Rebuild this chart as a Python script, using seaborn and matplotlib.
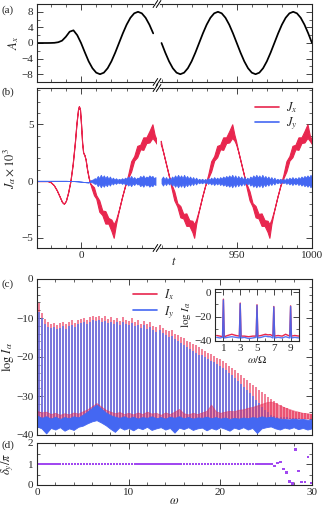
import numpy as np
import matplotlib
matplotlib.use("Agg")
import matplotlib.pyplot as plt
import seaborn as sns
from matplotlib.ticker import FixedLocator, MultipleLocator
from matplotlib.lines import Line2D

# ── Data ─────────────────────────────────────────────────────────────────────
# (a) vector potential A_x, sampled every 2.5 time units
T_A_LEFT = np.arange(-30.0, 50.0, 2.5)
A_LEFT = [0.0, 0.0, 0.0, 0.0, 0.01, 0.05, 0.2, 0.6, 1.6, 2.9, 3.25, 2.0, 0.0,
          -2.4, -4.7, -6.47, -7.61, -8.0, -7.61, -6.47, -4.7, -2.47, 0.0,
          2.47, 4.7, 6.47, 7.61, 8.0, 7.61, 6.47, 4.7, 2.47]
T_A_RIGHT = np.arange(900.0, 1000.1, 2.5)
A_RIGHT = [0.0, -2.47, -4.7, -6.47, -7.61, -8.0, -7.61, -6.47, -4.7, -2.47,
           0.0, 2.47, 4.7, 6.47, 7.61, 8.0, 7.61, 6.47, 4.7, 2.47,
           0.0, -2.47, -4.7, -6.47, -7.61, -8.0, -7.61, -6.47, -4.7, -2.47,
           0.0, 2.47, 4.7, 6.47, 7.61, 8.0, 7.61, 6.47, 4.7, 2.47, 0.0]

# (b) current J_x: centre of the trace and half width of its jitter
JX_T_LEFT = [-29, -22, -20, -18, -16, -14, -12.5, -11.3, -10, -8.5, -7, -5.5,
             -4, -3, -2, -1.4, -0.7, 0, 0.7, 1.4, 2.2, 3, 4, 5, 6, 7, 8.5, 10,
             12, 14, 16, 18, 20, 21.5, 23, 25, 27, 29, 31, 33, 35, 37, 39, 41,
             43, 45, 47, 48.5, 50]
JX_LEFT = [0, 0, -0.1, -0.35, -0.8, -1.4, -1.85, -2.0, -1.75, -1.0, 0.0, 1.5,
           3.5, 5.1, 6.3, 6.6, 6.3, 5.0, 3.4, 2.5, 2.3, 1.9, 1.0, 0.3, -0.2,
           -0.5, -0.9, -1.4, -2.2, -2.8, -3.2, -3.5, -3.9, -4.4, -3.6, -2.5,
           -1.4, -0.4, 0.4, 1.3, 2.0, 2.6, 3.0, 3.3, 3.6, 3.9, 4.4, 3.8, 3.4]
JX_NOISE_LEFT = [0, 0, 0, 0, 0, 0, 0, 0, 0, 0, 0, 0, 0, 0, 0, 0, 0, 0, 0, 0, 0,
                 0, 0, 0, 0, 0.15, 0.35, 0.15, 0.5, 0.2, 0.55, 0.25, 0.5, 0.6,
                 0.2, 0, 0, 0, 0.15, 0.45, 0.2, 0.5, 0.2, 0.55, 0.25, 0.5,
                 0.6, 0.25, 0.15]
JX_T_RIGHT = [899.5, 901, 903, 905, 906.5, 908.5, 910.5, 912.5, 914.5, 916.5,
              918.5, 920.5, 921.7, 923, 925, 927, 929, 931, 933, 935, 937,
              939, 941, 943, 945, 947, 948.5,
              949.5, 951, 953, 955, 956.5, 958.5, 960.5, 962.5, 964.5, 966.5,
              968.5, 970.5, 971.7, 973, 975, 977, 979, 981, 983, 985, 987,
              989, 991, 993, 995, 997, 998.5, 1000]
JX_RIGHT = [3.4, 2.6, 1.5, 0.4, -0.4, -1.3, -2.1, -2.7, -3.1, -3.4, -3.7, -4.0,
            -4.4, -3.6, -2.5, -1.4, -0.4, 0.4, 1.3, 2.0, 2.6, 3.0, 3.3, 3.6,
            3.9, 4.4, 3.8,
            3.4, 2.6, 1.5, 0.4, -0.4, -1.3, -2.1, -2.7, -3.1, -3.4, -3.7, -4.0,
            -4.4, -3.6, -2.5, -1.4, -0.4, 0.4, 1.3, 2.0, 2.6, 3.0, 3.3, 3.6,
            3.9, 4.4, 3.8, 3.4]
JX_NOISE_RIGHT = [0.15, 0, 0, 0, 0.15, 0.4, 0.15, 0.5, 0.2, 0.55, 0.25, 0.5,
                  0.6, 0.2, 0, 0, 0, 0.15, 0.45, 0.2, 0.5, 0.2, 0.55, 0.25,
                  0.5, 0.6, 0.25,
                  0.15, 0, 0, 0, 0.15, 0.4, 0.15, 0.5, 0.2, 0.55, 0.25, 0.5,
                  0.6, 0.2, 0, 0, 0, 0.15, 0.45, 0.2, 0.5, 0.2, 0.55, 0.25,
                  0.5, 0.6, 0.25, 0.15]

# (b) current J_y: centre and jitter amplitude
JY_T_LEFT = [-29, -20, -10, -5, 0, 3, 5] + list(range(6, 50))
JY_MID_LEFT = [0.02, 0.02, 0.02, 0.0, -0.05, -0.1, -0.12] + [0.0] * 44
JY_AMP_LEFT = [0] * 7 + [
    0.05, 0.1, 0.15, 0.25, 0.2, 0.45, 0.25, 0.55, 0.3, 0.5, 0.25, 0.45, 0.2,
    0.4, 0.15, 0.3, 0.12, 0.25, 0.1, 0.2, 0.12, 0.25, 0.15, 0.3, 0.2, 0.4,
    0.25, 0.45, 0.2, 0.35, 0.15, 0.3, 0.25, 0.45, 0.3, 0.5, 0.25, 0.4, 0.3,
    0.5, 0.35, 0.45, 0.25, 0.35]
JY_T_RIGHT = np.arange(900, 1001, 1)
JY_AMP_RIGHT = [
    0.2, 0.4, 0.15, 0.35, 0.12, 0.3, 0.15, 0.4, 0.25, 0.5, 0.3, 0.55, 0.3, 0.5,
    0.25, 0.55, 0.25, 0.45, 0.2, 0.4, 0.15, 0.35, 0.1, 0.3, 0.08, 0.2, 0.1, 0.2,
    0.08, 0.18, 0.1, 0.25, 0.12, 0.3, 0.15, 0.35, 0.15, 0.3, 0.15, 0.35, 0.2,
    0.4, 0.25, 0.45, 0.3, 0.5, 0.3, 0.55, 0.25, 0.5, 0.2, 0.45, 0.2, 0.4, 0.15,
    0.35, 0.12, 0.3, 0.15, 0.4, 0.25, 0.5, 0.3, 0.55, 0.3, 0.5, 0.25, 0.55,
    0.25, 0.45, 0.2, 0.4, 0.15, 0.35, 0.1, 0.3, 0.08, 0.2, 0.1, 0.2, 0.08, 0.18,
    0.1, 0.25, 0.12, 0.3, 0.15, 0.35, 0.15, 0.3, 0.15, 0.35, 0.2, 0.4, 0.25,
    0.45, 0.3, 0.5, 0.3, 0.55, 0.3]

# (c) spectrum: odd harmonics of the drive frequency
OMEGA_DRIVE = 0.165
HARMONIC_ORDER = np.arange(1, 182, 2)
IX_PEAK = [-6.2, -8.8, -10.2, -11.0, -11.5, -11.2, -11.8, -11.3, -10.9, -11.6,
           -11.0, -10.6, -11.2, -10.5, -10.3, -10.0, -10.4, -9.8, -9.6, -9.7,
           -9.4, -9.9, -9.6, -10.2, -9.8, -10.5, -10.0, -10.7, -9.8, -10.4,
           -10.8, -10.1, -11.0, -10.6, -11.5, -10.8, -11.6, -11.0, -12.0, -12.2,
           -11.8, -12.6, -13.0, -13.4, -13.2, -14.0, -14.4, -14.9, -15.2, -15.8,
           -16.2, -16.6, -17.0, -17.5, -18.0, -18.5, -18.9, -19.3, -19.8, -20.3,
           -20.6, -21.0, -21.6, -22.2, -22.8, -23.4, -24.0, -24.6, -25.3, -26.0,
           -26.6, -27.2, -27.8, -28.4, -29.0, -29.6, -30.2, -30.8, -31.4, -31.9,
           -32.4, -32.8, -33.2, -33.5, -33.8, -34.0, -34.2, -34.3, -34.4, -34.5,
           -34.6]
IY_PEAK = [-8.5, -10.0, -11.5, -12.2, -12.6, -12.4, -12.9, -12.5, -12.0, -12.7,
           -12.1, -11.7, -12.3, -11.6, -11.4, -11.1, -11.5, -10.9, -10.6, -10.8,
           -10.5, -11.0, -10.7, -11.3, -10.9, -11.6, -11.1, -11.8, -10.9, -11.5,
           -11.9, -11.2, -12.1, -11.7, -12.6, -11.9, -12.8, -12.2, -13.2, -13.5,
           -13.1, -13.9, -14.4, -14.8, -14.7, -15.5, -16.0, -16.5, -16.9, -17.5,
           -18.0, -18.5, -19.0, -19.6, -19.6, -20.0, -20.4, -20.9, -21.4, -21.9,
           -22.3, -22.8, -23.4, -24.0, -24.7, -25.4, -26.1, -26.8, -27.6, -28.4,
           -29.2, -30.0, -30.9, -31.8, -32.7, -33.5, -34.2, -34.8, -35.2, -35.3,
           -35.4, -35.5, -35.5, -35.6, -35.6, -35.7, -35.7, -35.8, -35.8, -35.8,
           -35.9]

# (c) noise floor, sampled every 0.5 in omega
FLOOR_W = np.arange(0, 30.01, 0.5)
IX_FLOOR_TOP = [-33.8, -34.2, -34.0, -34.6, -34.3, -34.8, -34.4, -34.7, -34.2,
                -34.5, -33.9, -33.4, -32.6, -31.8, -32.7, -33.5, -34.0, -34.4,
                -34.1, -34.6, -34.3, -34.7, -34.2, -34.6, -34.0, -34.5, -34.3,
                -34.8, -34.2, -34.6, -34.0, -33.3, -34.4, -34.7, -34.3, -34.6,
                -34.2, -33.8, -32.2, -33.9, -34.3, -34.0, -33.8, -33.9, -33.5,
                -33.4, -33.0, -32.8, -32.4, -32.0, -31.6, -31.4, -31.8, -32.4,
                -32.9, -33.3, -33.7, -34.0, -34.3, -34.4, -34.6]
IY_FLOOR_TOP = [-35.0, -35.6, -35.2, -35.8, -35.3, -35.9, -35.4, -35.7, -35.2,
                -35.5, -34.8, -34.0, -33.0, -32.2, -33.2, -34.2, -34.9, -35.3,
                -35.6, -35.2, -35.7, -35.3, -35.8, -35.4, -35.6, -35.2, -35.7,
                -35.4, -35.8, -35.3, -35.6, -35.2, -35.7, -35.4, -35.8, -35.5,
                -35.6, -35.3, -35.7, -35.4, -35.8, -35.5, -35.9, -35.6, -35.8,
                -35.5, -35.7, -35.4, -35.6, -35.2, -35.5, -35.3, -35.6, -35.8,
                -35.9, -36.0, -35.8, -36.0, -35.9, -36.1, -36.0]
IY_FLOOR_BOTTOM = [-37.8, -38.3, -39.6, -38.2, -38.6, -38.0, -38.9, -38.3,
                   -38.7, -37.9, -37.6, -37.0, -36.5, -36.2, -36.8, -37.5,
                   -38.4, -39.2, -38.0, -38.6, -38.2, -38.8, -38.1, -38.5,
                   -37.9, -38.7, -38.3, -38.0, -38.6, -38.2, -39.4, -38.1,
                   -38.5, -38.0, -38.7, -38.3, -38.1, -38.8, -38.2, -38.6,
                   -38.0, -38.4, -38.9, -38.1, -38.5, -38.0, -38.6, -38.2,
                   -39.5, -38.3, -38.0, -37.8, -38.3, -38.6, -38.1, -38.4,
                   -38.0, -38.5, -38.2, -38.6, -38.3]

# (c) inset: first harmonics, omega / Omega
INSET_W = [0.2, 0.6, 0.9, 1.0, 1.1, 1.5, 2.0, 2.5, 2.9, 3.0, 3.1, 3.5, 4.0,
           4.5, 4.9, 5.0, 5.1, 5.5, 6.0, 6.3, 6.6, 6.9, 7.0, 7.1, 7.5, 8.0,
           8.4, 8.9, 9.0, 9.1, 9.5, 10.0]
INSET_IX = [-35.5, -36.0, -36.5, -5.8, -36.5, -35.5, -34.5, -35.5, -36.0, -9.0,
            -36.0, -36.0, -36.5, -36.0, -36.0, -10.4, -36.0, -35.5, -34.5,
            -35.0, -34.8, -36.0, -11.8, -36.0, -35.5, -36.0, -34.5, -36.0,
            -11.3, -36.0, -35.5, -36.0]
INSET_IY = [-37.0, -37.5, -37.0, -6.5, -37.5, -37.0, -36.5, -37.0, -37.5, -9.6,
            -37.5, -37.0, -38.0, -37.5, -37.0, -10.9, -37.5, -37.0, -36.0,
            -36.5, -36.5, -37.5, -12.2, -37.5, -37.0, -37.5, -36.5, -37.5,
            -11.8, -37.5, -37.0, -37.5]

# (d) phase difference at each harmonic, in units of pi
DELTA_Y = [1.0] * 78 + [0.9, 1.05, 1.1, 0.75, 0.6, 0.17, 0.07, 1.7, 0.68,
                        0.15, 0.15, 1.32, 0.1]

RED = "#e8264e"
BLUE = "#4467f2"
BAR_BLUE = "#5676f3"
PURPLE = "#a148f0"

# ── Style ────────────────────────────────────────────────────────────────────
sns.set_style("ticks")
plt.rcParams.update({
    "font.family": ["Liberation Serif", "DejaVu Serif"],
    "mathtext.fontset": "stix",
    "font.size": 8,
    "axes.linewidth": 0.8,
    "xtick.direction": "in",
    "ytick.direction": "in",
    "xtick.major.size": 4,
    "ytick.major.size": 4,
    "xtick.minor.size": 2.2,
    "ytick.minor.size": 2.2,
    "xtick.major.width": 0.6,
    "ytick.major.width": 0.6,
    "xtick.minor.width": 0.5,
    "ytick.minor.width": 0.5,
    "xtick.major.pad": 2.5,
    "ytick.major.pad": 2.5,
    "xtick.labelsize": 8,
    "ytick.labelsize": 8,
})

W, H = 323, 509
fig = plt.figure(figsize=(W / 100, H / 100), dpi=100)


def box(left, top, right, bottom):
    return [left / W, 1 - bottom / H, (right - left) / W, (bottom - top) / H]


def broken_pair(top, bottom):
    axl = fig.add_axes(box(37, top, 157, bottom))
    axr = fig.add_axes(box(157, top, 312, bottom))
    axl.set_xlim(-29, 50)
    axr.set_xlim(897, 1000)
    axl.spines["right"].set_visible(False)
    axr.spines["left"].set_visible(False)
    for ax in (axl, axr):
        ax.tick_params(which="both", top=True, bottom=True)
    axl.tick_params(axis="y", which="both", left=True, right=False)
    axr.tick_params(axis="y", which="both", left=False, right=True,
                    labelleft=False, labelright=False)
    axl.xaxis.set_major_locator(FixedLocator([0]))
    axl.xaxis.set_minor_locator(FixedLocator([-20, -10, 10, 20, 30, 40]))
    axr.xaxis.set_major_locator(FixedLocator([950, 1000]))
    axr.xaxis.set_minor_locator(FixedLocator([900, 910, 920, 930, 940, 960,
                                              970, 980, 990]))
    # break marks "//" on the top and bottom frame
    pw, ph = 155.0, float(bottom - top)
    for y in (0, 1):
        axr.plot([-2.2 / pw, 2.2 / pw], [y, y], color="white", lw=1.6,
                 transform=axr.transAxes, clip_on=False, zorder=6)
        for off in (-1.6, 1.6):
            axr.plot([(off - 2.3) / pw, (off + 2.3) / pw],
                     [y - 3.5 / ph, y + 3.5 / ph], color="k", lw=0.7,
                     transform=axr.transAxes, clip_on=False, zorder=7)
    return axl, axr


def small_legend(ax, labels, anchor, spacing):
    handles = [Line2D([], [], color=RED, lw=1.2, label=labels[0]),
               Line2D([], [], color=BLUE, lw=1.2, label=labels[1])]
    ax.legend(handles=handles, loc="upper left", bbox_to_anchor=anchor,
              frameon=False, fontsize=9, handlelength=1.9, handletextpad=0.55,
              labelspacing=spacing, borderpad=0, borderaxespad=0)


# ── (a) A_x ──────────────────────────────────────────────────────────────────
axa_l, axa_r = broken_pair(4, 82)
sns.lineplot(x=T_A_LEFT, y=A_LEFT, ax=axa_l, color="k", lw=1.25)
sns.lineplot(x=T_A_RIGHT, y=A_RIGHT, ax=axa_r, color="k", lw=1.25)
for ax in (axa_l, axa_r):
    ax.set_ylim(-10, 10)
    ax.yaxis.set_major_locator(FixedLocator([-8, -4, 0, 4, 8]))
    ax.yaxis.set_minor_locator(MultipleLocator(2))
    ax.tick_params(labelbottom=False)
    ax.set_ylabel("")
axa_l.set_ylabel(r"$A_x$", fontsize=9)
axa_l.yaxis.set_label_coords(-0.13, 0.5)

# ── (b) J_x, J_y ─────────────────────────────────────────────────────────────
axb_l, axb_r = broken_pair(88, 248)
for ax, t, c, n in ((axb_l, JX_T_LEFT, JX_LEFT, JX_NOISE_LEFT),
                    (axb_r, JX_T_RIGHT, JX_RIGHT, JX_NOISE_RIGHT)):
    c, n = np.asarray(c), np.asarray(n)
    ax.fill_between(t, c - n, c + n, color=RED, edgecolor=RED, lw=0.8)
jy_mid_l = np.asarray(JY_MID_LEFT)
jy_amp_l = np.asarray(JY_AMP_LEFT)
axb_l.fill_between(JY_T_LEFT, jy_mid_l - jy_amp_l, jy_mid_l + jy_amp_l,
                   color=BLUE, edgecolor=BLUE, lw=0.6)
jy_amp_r = np.asarray(JY_AMP_RIGHT)
axb_r.fill_between(JY_T_RIGHT, -jy_amp_r, jy_amp_r, color=BLUE,
                   edgecolor=BLUE, lw=0.6)
for ax in (axb_l, axb_r):
    ax.set_ylim(-5.9, 8.2)
    ax.yaxis.set_major_locator(FixedLocator([-5, 0, 5]))
    ax.yaxis.set_minor_locator(MultipleLocator(1))
axb_l.set_ylabel(r"$J_\alpha \times 10^3$", fontsize=9)
axb_l.yaxis.set_label_coords(-0.16, 0.5)
small_legend(axb_r, (r"$J_x$", r"$J_y$"), (0.632, 0.925), 0.05)
fig.text(174 / W, 1 - 262 / H, r"$t$", ha="center", va="center", fontsize=9)

# ── (c) spectrum ─────────────────────────────────────────────────────────────
axc = fig.add_axes(box(37, 279, 312, 435))
omega = HARMONIC_ORDER * OMEGA_DRIVE
axc.vlines(omega, -36, IX_PEAK, color=RED, lw=1.1, alpha=0.75, zorder=2)
axc.vlines(omega, -36, IY_PEAK, color=BAR_BLUE, lw=1.1, zorder=2.1)
axc.fill_between(FLOOR_W, -35.8, IX_FLOOR_TOP, color=RED, lw=0.5,
                 edgecolor=RED, alpha=0.5, zorder=2.2)
axc.fill_between(FLOOR_W, IY_FLOOR_BOTTOM, IY_FLOOR_TOP, color=BLUE, lw=0.6,
                 edgecolor=BLUE, zorder=2.3)
axc.set_xlim(0, 30)
axc.set_ylim(-40, 0)
axc.xaxis.set_major_locator(MultipleLocator(10))
axc.xaxis.set_minor_locator(MultipleLocator(2))
axc.yaxis.set_major_locator(MultipleLocator(10))
axc.yaxis.set_minor_locator(MultipleLocator(2))
axc.tick_params(which="both", top=True, right=True, labelbottom=False)
axc.set_ylabel(r"$\log\, I_\alpha$", fontsize=9)
axc.yaxis.set_label_coords(-0.075, 0.5)
small_legend(axc, (r"$I_x$", r"$I_y$"), (0.349, 0.945), 0.12)

# inset
axi = fig.add_axes(box(215, 289, 299, 341))
sns.lineplot(x=INSET_W, y=INSET_IX, ax=axi, color=RED, lw=1.0)
sns.lineplot(x=INSET_W, y=INSET_IY, ax=axi, color=BLUE, lw=1.0, alpha=0.9)
axi.set_xlim(0, 10)
axi.set_ylim(-40, 2.5)
axi.xaxis.set_major_locator(FixedLocator([1, 3, 5, 7, 9]))
axi.xaxis.set_minor_locator(FixedLocator([2, 4, 6, 8]))
axi.yaxis.set_major_locator(FixedLocator([-40, -20, 0]))
axi.yaxis.set_minor_locator(MultipleLocator(10))
axi.tick_params(which="both", top=True, right=True)
axi.set_xlabel(r"$\omega/\Omega$", fontsize=8, labelpad=0.5)
axi.set_ylabel(r"$\log\, I_\alpha$", fontsize=8, labelpad=0.5)

# ── (d) phase ────────────────────────────────────────────────────────────────
axd = fig.add_axes(box(37, 443, 312, 485))
sns.scatterplot(x=omega, y=DELTA_Y, ax=axd, color=PURPLE, s=3,
                edgecolor="none", marker="s")
axd.set_xlim(0, 30)
axd.set_ylim(0, 2)
axd.xaxis.set_major_locator(MultipleLocator(10))
axd.xaxis.set_minor_locator(MultipleLocator(2))
axd.yaxis.set_major_locator(MultipleLocator(1))
axd.yaxis.set_minor_locator(MultipleLocator(0.5))
axd.tick_params(which="both", top=True, right=True)
axd.set_ylabel(r"$\delta_y/\pi$", fontsize=9)
axd.yaxis.set_label_coords(-0.075, 0.5)
fig.text(174 / W, 1 - 501 / H, r"$\omega$", ha="center", va="center",
         fontsize=9)

# panel tags
for tag, ypx in (("(a)", 10), ("(b)", 92), ("(c)", 284), ("(d)", 445)):
    fig.text(1 / W, 1 - ypx / H, tag, ha="left", va="center", fontsize=8)

fig.savefig("out.png", dpi=100)
